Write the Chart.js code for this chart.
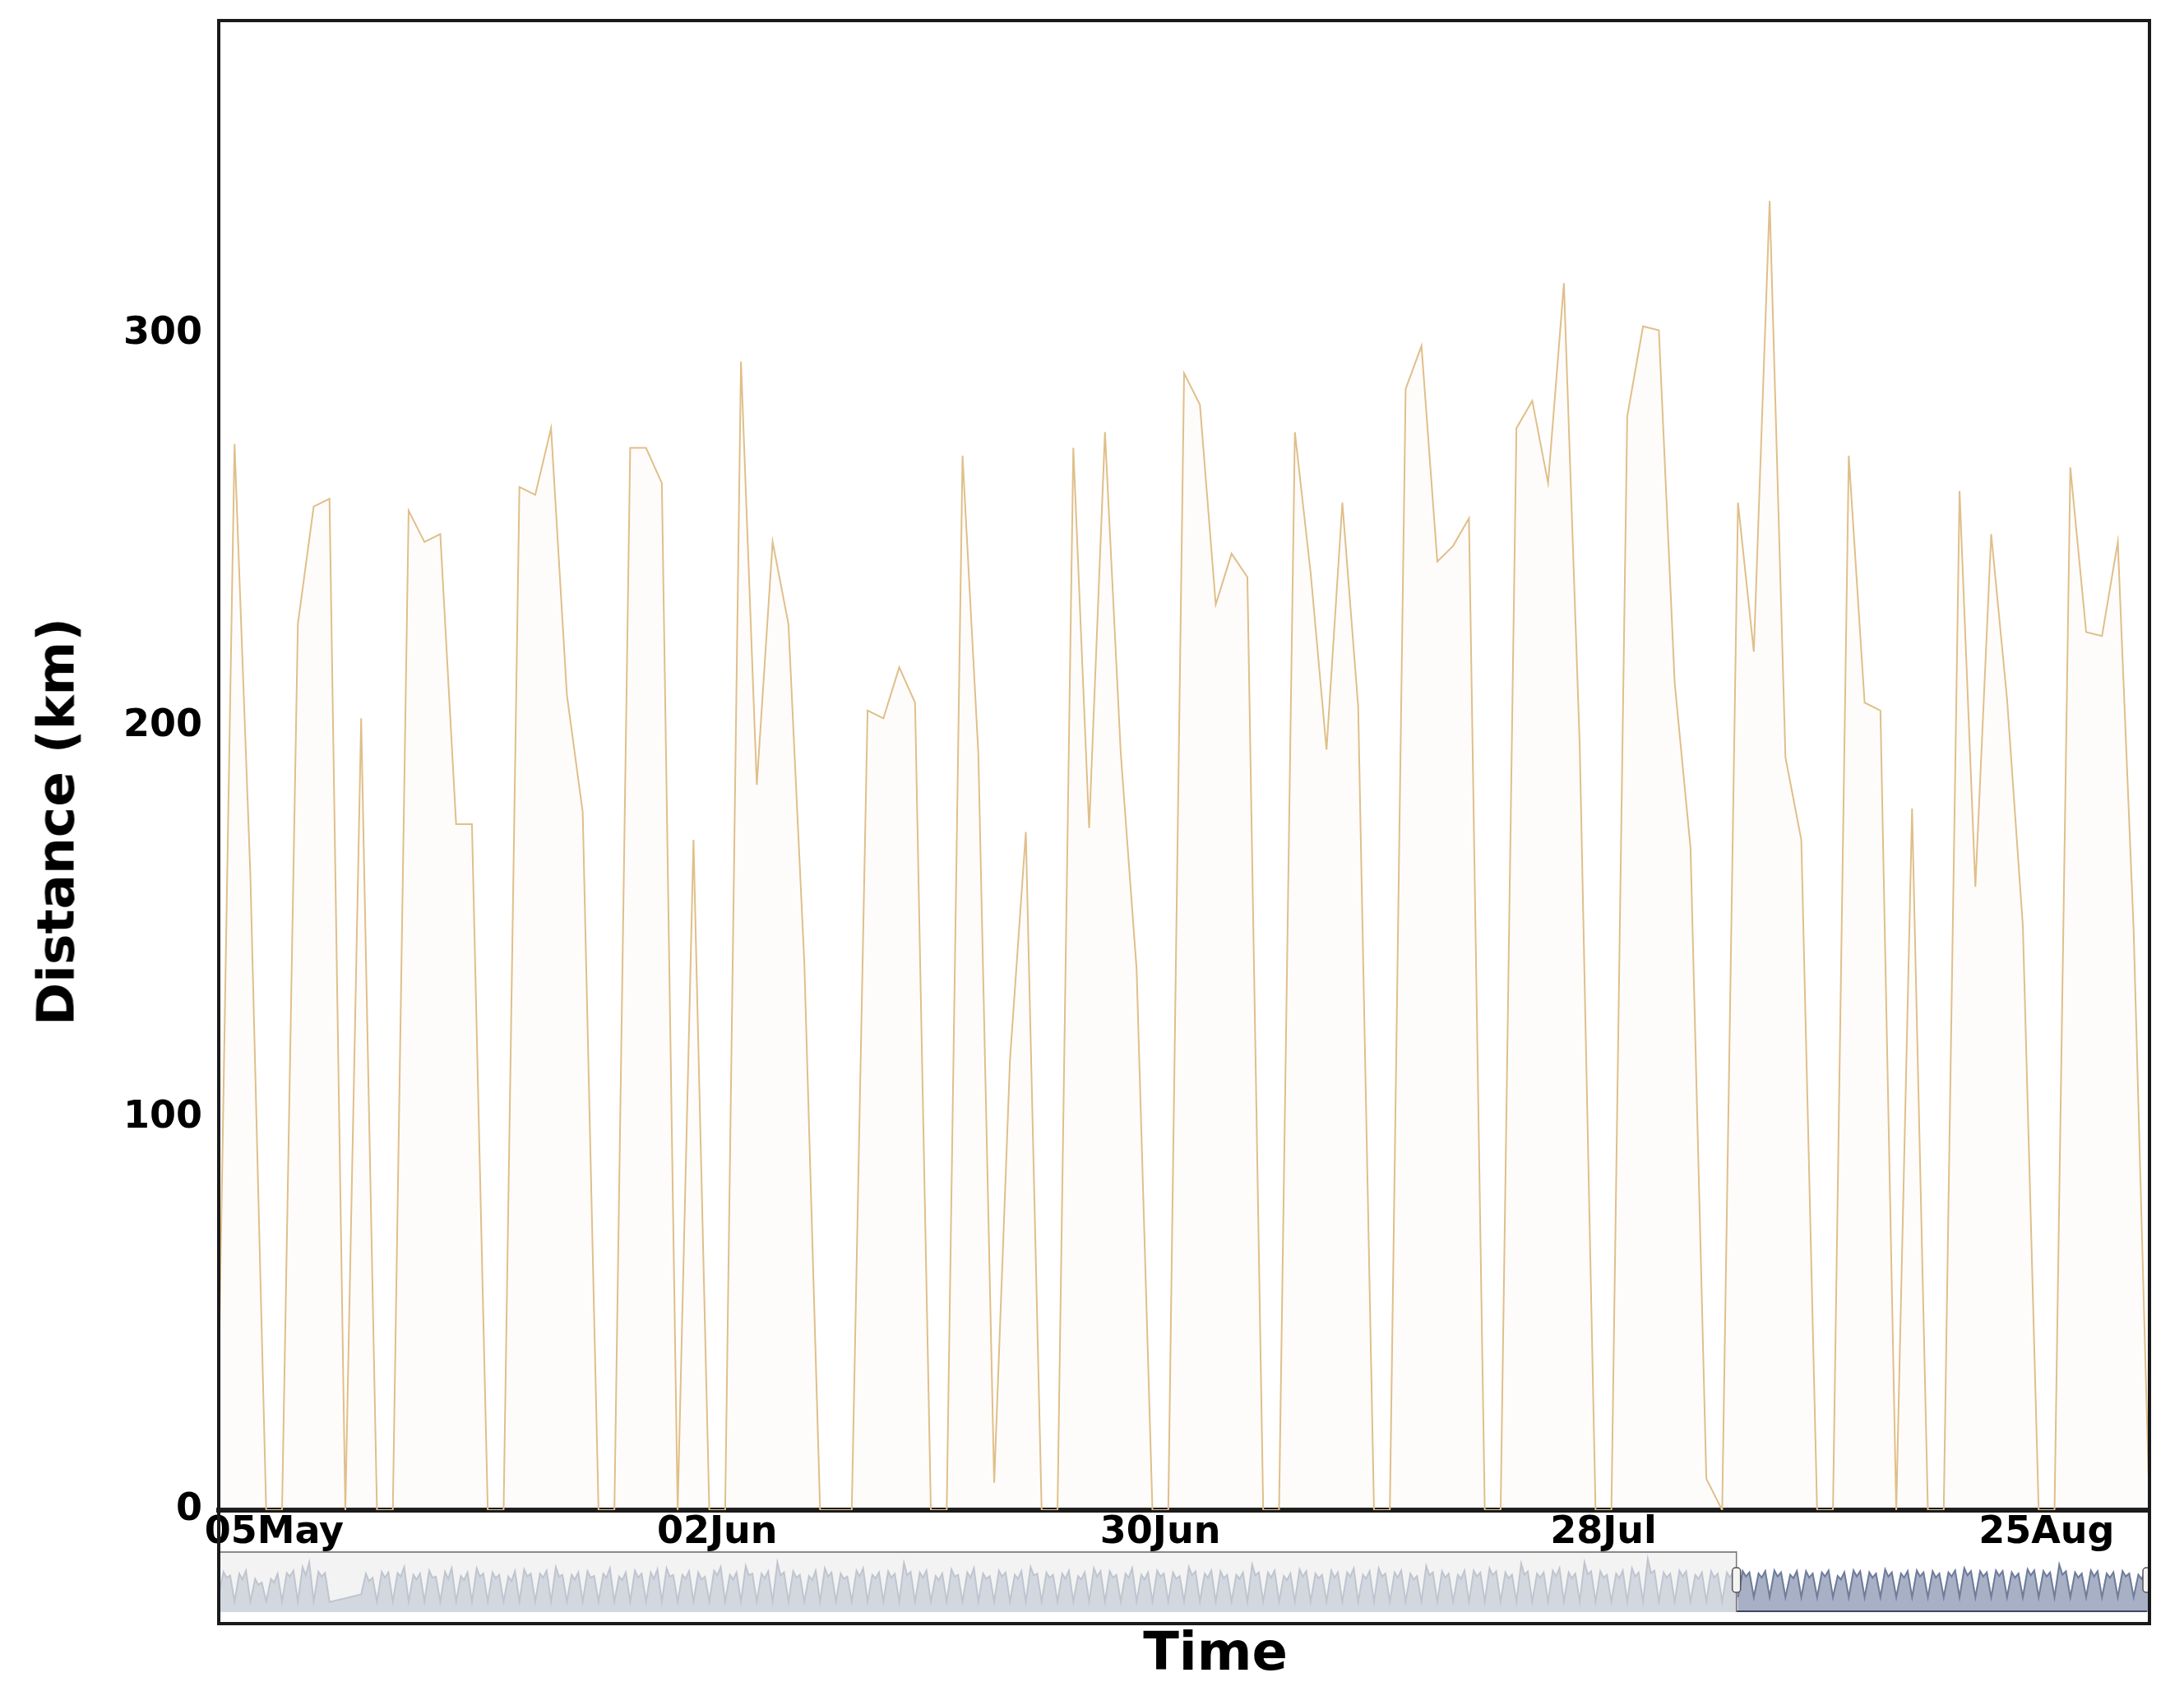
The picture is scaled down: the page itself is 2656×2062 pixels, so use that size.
<!DOCTYPE html>
<html>
<head>
<meta charset="utf-8">
<script src="https://cdn.jsdelivr.net/npm/chart.js@4.4.1/dist/chart.umd.min.js"></script>
<style>
  html, body { margin: 0; padding: 0; background: #fff; }
  #wrap { position: relative; width: 2656px; height: 2062px; overflow: hidden; font-family: 'DejaVu Sans', sans-serif; }
  #main { position: absolute; left: 0; top: 0; }
  #slider { position: absolute; left: 266px; top: 1884px; }
  #frame { position: absolute; left: 264px; top: 23px; width: 2352px; height: 1953px;
           box-sizing: border-box; border: 4px solid #1a1a1a; pointer-events: none; }
  .ttl { position: absolute; font-weight: bold; color: #000; white-space: nowrap; line-height: 1; }
  #ytitle { left: 68px; top: 999px; font-size: 63px; transform: translate(-50%, -50%) rotate(-90deg); }
  #xtitle { left: 1478px; top: 1976px; font-size: 64px; transform: translateX(-50%); }
</style>
</head>
<body>
<div id="wrap">
  <canvas id="main" width="2656" height="1890"></canvas>
  <canvas id="slider" width="2348" height="76"></canvas>
  <div id="frame"></div>
  <div class="ttl" id="ytitle">Distance (km)</div>
  <div class="ttl" id="xtitle">Time</div>
</div>
<script>
  'use strict';

  /* ---- data ---- */
  // daily distance, one reading per day from 1 May to 31 Aug (x = days since 1 May 00:00)
  var FIRST_DAY = 0.5;
  var distanceKm = [
    35, 272, 162, 0, 0, 226, 256, 258, 0, 202,
    0, 0, 255, 247, 249, 175, 175, 0, 0, 261,
    259, 276, 208, 178, 0, 0, 271, 271, 262, 0,
    171, 0, 0, 293, 185, 247, 226, 140, 0, 0,
    0, 204, 202, 215, 206, 0, 0, 269, 193, 7,
    115, 173, 0, 0, 271, 174, 275, 193, 138, 0,
    0, 290, 282, 231, 244, 238, 0, 0, 275, 239,
    194, 257, 205, 0, 0, 286, 297, 242, 246, 253,
    0, 0, 276, 283, 262, 313, 195, 0, 0, 279,
    302, 301, 211, 169, 8, 0, 257, 219, 334, 192,
    171, 0, 0, 269, 206, 204, 0, 179, 0, 0,
    260, 159, 249, 207, 149, 0, 0, 266, 224, 223,
    247, 148, 0
  ];
  var tickDays = [4, 32, 60, 88, 116];
  var tickLabels = ['05May', '02Jun', '30Jun', '28Jul', '25Aug'];
  var yTicks = [0, 100, 200, 300];
  var Y_MAX = 380;

  // overview strip under the axis: per day a night low, morning peak, midday dip, afternoon peak (relative 0-100)
  var SLIDER_PHASES = [0, 0.3, 0.5, 0.72];
  var sliderLevels = [
    30,68,58,62, 18,65,55,70, 18,56,46,50, 18,56,50,65, 18,66,60,70, 18,76,62,84, 18,68,60,66,
    17,null,null,null, null,null,null,null, 30,65,52,58, 18,68,58,67, 18,66,60,76, 18,63,55,65, 18,70,58,60,
    18,68,56,74, 18,61,54,67, 18,74,60,65, 18,67,57,63, 18,60,52,69, 18,72,60,65, 18,65,58,70,
    18,76,60,63, 18,63,55,67, 18,69,58,61, 18,65,58,74, 18,60,54,67, 18,70,58,65, 18,67,56,72,
    18,74,60,63, 18,63,56,69, 18,67,55,60, 18,70,62,76, 18,63,55,67, 18,78,62,65, 18,65,57,69,
    18,84,62,67, 18,69,58,63, 18,61,54,70, 18,74,60,67, 18,65,56,60, 18,70,60,74, 18,63,57,67,
    18,69,58,65, 18,83,62,68, 18,67,58,70, 18,61,54,65, 18,72,60,63, 18,67,58,74, 18,65,56,61,
    18,70,60,67, 18,63,56,69, 18,76,62,65, 18,67,58,63, 18,65,56,70, 18,61,55,67, 18,74,60,69,
    18,69,58,63, 18,65,58,74, 18,63,55,67, 18,70,60,65, 18,67,56,61, 18,76,62,69, 18,65,58,70,
    18,69,57,63, 18,63,56,67, 18,80,62,67, 18,67,58,70, 18,61,54,65, 18,72,60,69, 18,65,57,63,
    18,70,58,67, 18,67,60,74, 18,63,56,69, 18,74,60,65, 18,67,58,70, 18,65,55,61, 18,78,62,67,
    18,69,58,65, 18,63,56,70, 18,70,60,67, 18,74,62,69, 18,67,57,63, 18,82,63,69, 18,65,58,67,
    18,70,60,74, 18,67,57,65, 18,84,64,69, 18,69,58,63, 18,65,57,70, 18,74,60,67, 18,90,66,70,
    18,67,58,65, 18,70,60,69, 18,63,56,67, 18,69,58,65, 18,67,58,70, 25,69,60,67, 25,65,58,69,
    25,70,60,67, 25,63,57,69, 25,69,58,65, 25,67,60,70, 25,61,55,67, 25,70,60,69, 25,67,58,65,
    25,72,60,67, 25,65,58,69, 25,70,60,67, 25,69,58,65, 25,67,60,70, 25,74,62,69, 25,69,60,67,
    25,70,61,69, 25,67,58,65, 25,72,62,70, 25,69,60,67, 25,80,63,69, 25,67,58,65, 25,70,60,69,
    25,65,58,67, 25,69,60,65, 25,63,56,67, 25,67,58,65
  ];
  var SLIDER_WINDOW = [96.4, 122.5];

  var X_MIN = FIRST_DAY;
  var X_MAX = FIRST_DAY + distanceKm.length - 1;

  Chart.defaults.font.family = "'DejaVu Sans', sans-serif";
  Chart.defaults.color = '#000';

  var tickFont = { size: 46, weight: 'bold' };

  /* ---- main area chart ---- */
  new Chart(document.getElementById('main').getContext('2d'), {
    type: 'line',
    data: {
      datasets: [{
        data: distanceKm.map(function (v, i) { return { x: FIRST_DAY + i, y: v }; }),
        borderColor: 'rgb(224,191,138)',
        backgroundColor: 'rgba(222,184,135,0.045)',
        borderWidth: 2,
        fill: 'origin',
        pointRadius: 0,
        tension: 0,
      }],
    },
    options: {
      responsive: false, animation: false, devicePixelRatio: 1,
      layout: { padding: { left: 0, right: 42, top: 25, bottom: 0 } },
      plugins: { legend: { display: false }, tooltip: { enabled: false } },
      scales: {
        x: {
          type: 'linear', min: X_MIN, max: X_MAX,
          afterBuildTicks: function (s) { s.ticks = tickDays.map(function (d) { return { value: d }; }); },
          afterFit: function (s) { s.height = 54; s.paddingLeft = 0; s.paddingRight = 0; },
          ticks: {
            font: tickFont, color: '#000', padding: 0, autoSkip: false, maxRotation: 0,
            callback: function (v) { return tickLabels[tickDays.indexOf(v)]; },
          },
          grid: { display: false, drawTicks: false },
          border: { display: true, width: 6, color: '#1a1a1a' },
        },
        y: {
          min: 0, max: Y_MAX,
          afterBuildTicks: function (s) { s.ticks = yTicks.map(function (v) { return { value: v }; }); },
          afterFit: function (s) { s.width = 266; s.paddingTop = 0; s.paddingBottom = 0; },
          ticks: { font: tickFont, color: '#000', padding: 20 },
          grid: { display: false, drawTicks: false },
          border: { display: false },
        },
      },
    },
  });

  /* ---- overview strip with selected window ---- */
  var sliderPoints = sliderLevels.map(function (v, j) {
    var n = SLIDER_PHASES.length;
    return { x: FIRST_DAY + Math.floor(j / n) + SLIDER_PHASES[j % n], y: v };
  });

  var sliderDecor = {
    id: 'sliderDecor',
    beforeDatasetsDraw: function (chart) {
      var ctx = chart.ctx, a = chart.chartArea, xs = chart.scales.x;
      var w0 = xs.getPixelForValue(SLIDER_WINDOW[0]);
      ctx.save();
      ctx.fillStyle = '#f3f3f3';
      ctx.fillRect(a.left, a.top, w0 - a.left, a.bottom - a.top);
      ctx.strokeStyle = '#8a8a8a';
      ctx.lineWidth = 2;
      ctx.beginPath();
      ctx.moveTo(a.left, a.top - 1); ctx.lineTo(w0, a.top - 1);
      ctx.stroke();
      ctx.restore();
    },
    afterDatasetsDraw: function (chart) {
      var ctx = chart.ctx, a = chart.chartArea, xs = chart.scales.x;
      var w0 = xs.getPixelForValue(SLIDER_WINDOW[0]);
      var w1 = Math.min(xs.getPixelForValue(SLIDER_WINDOW[1]), a.right - 3);
      ctx.save();
      ctx.strokeStyle = '#3d475f';
      ctx.lineWidth = 2;
      ctx.beginPath();
      ctx.moveTo(w0, a.bottom - 1); ctx.lineTo(w1, a.bottom - 1);
      ctx.stroke();
      ctx.strokeStyle = '#777';
      ctx.lineWidth = 1.5;
      ctx.beginPath();
      ctx.moveTo(w0, a.top - 2); ctx.lineTo(w0, a.bottom);
      ctx.stroke();
      [w0, w1].forEach(function (px) {
        var hw = 10, hh = 30, top = (a.top + a.bottom) / 2 - hh / 2 - 3;
        ctx.fillStyle = '#f4f4f4';
        ctx.strokeStyle = '#555';
        ctx.lineWidth = 1.5;
        ctx.beginPath();
        ctx.roundRect(px - hw / 2, top, hw, hh, 4);
        ctx.fill();
        ctx.stroke();
      });
      ctx.restore();
    },
  };

  new Chart(document.getElementById('slider').getContext('2d'), {
    type: 'line',
    data: {
      datasets: [{
        // whole period, greyed out
        data: sliderPoints,
        order: 2,
        borderColor: '#bfc5cf',
        backgroundColor: '#d3d7df',
        borderWidth: 2,
        fill: 'origin',
        pointRadius: 0,
        spanGaps: true,
        tension: 0,
      }, {
        // selected window, drawn on top
        data: sliderPoints.filter(function (p) { return p.x >= SLIDER_WINDOW[0]; }),
        order: 1,
        borderColor: '#6f7c9b',
        backgroundColor: '#a7b0c5',
        borderWidth: 2,
        fill: 'origin',
        pointRadius: 0,
        spanGaps: true,
        tension: 0,
      }],
    },
    options: {
      responsive: false, animation: false, devicePixelRatio: 1,
      layout: { padding: { left: 0, right: 0, top: 4, bottom: 0 } },
      plugins: { legend: { display: false }, tooltip: { enabled: false } },
      scales: {
        x: { type: 'linear', min: X_MIN, max: X_MAX, display: false },
        y: { min: 0, max: 100, display: false },
      },
    },
    plugins: [sliderDecor],
  });
</script>
</body>
</html>
